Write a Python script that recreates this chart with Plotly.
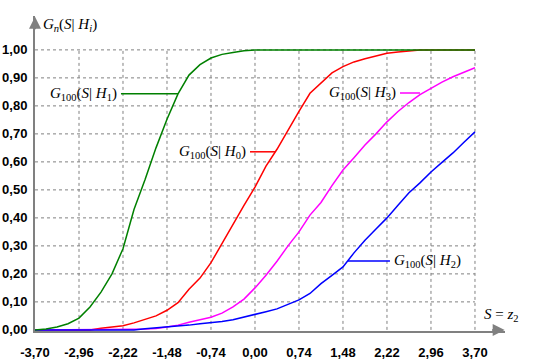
import plotly.graph_objects as go

# Sample points along S (step 0.185)
s_vals = [-3.700, -3.515, -3.330, -3.145, -2.960, -2.775, -2.590, -2.405, -2.220, -2.035,
          -1.850, -1.665, -1.480, -1.295, -1.110, -0.925, -0.740, -0.555, -0.370, -0.185,
          0.000, 0.185, 0.370, 0.555, 0.740, 0.925, 1.110, 1.295, 1.480, 1.665,
          1.850, 2.035, 2.220, 2.405, 2.590, 2.775, 2.960, 3.145, 3.330, 3.515, 3.700]

g_h1 = [0.000, 0.003, 0.010, 0.022, 0.042, 0.082, 0.135, 0.200, 0.290, 0.430,
        0.536, 0.650, 0.752, 0.843, 0.910, 0.947, 0.971, 0.984, 0.991, 0.997,
        1.000, 1.000, 1.000, 1.000, 1.000, 1.000, 1.000, 1.000, 1.000, 1.000,
        1.000, 1.000, 1.000, 1.000, 1.000, 1.000, 1.000, 1.000, 1.000, 1.000, 1.000]

g_h0 = [0.000, 0.000, 0.000, 0.000, 0.000, 0.000, 0.006, 0.010, 0.015, 0.025,
        0.037, 0.050, 0.070, 0.097, 0.145, 0.185, 0.240, 0.310, 0.380, 0.445,
        0.510, 0.585, 0.645, 0.715, 0.780, 0.845, 0.880, 0.918, 0.940, 0.957,
        0.968, 0.979, 0.988, 0.992, 0.996, 1.000, 1.000, 1.000, 1.000, 1.000, 1.000]

g_h3 = [0.000, 0.000, 0.000, 0.000, 0.000, 0.000, 0.000, 0.000, 0.001, 0.002,
        0.003, 0.005, 0.010, 0.017, 0.027, 0.036, 0.045, 0.060, 0.082, 0.110,
        0.150, 0.195, 0.245, 0.300, 0.350, 0.410, 0.455, 0.515, 0.571, 0.615,
        0.660, 0.700, 0.743, 0.780, 0.812, 0.840, 0.864, 0.885, 0.904, 0.920, 0.936]

g_h2 = [0.000, 0.000, 0.000, 0.000, 0.000, 0.000, 0.000, 0.000, 0.000, 0.000,
        0.004, 0.007, 0.010, 0.012, 0.017, 0.022, 0.025, 0.030, 0.036, 0.045,
        0.054, 0.065, 0.075, 0.090, 0.107, 0.130, 0.165, 0.195, 0.225, 0.275,
        0.320, 0.360, 0.400, 0.445, 0.490, 0.525, 0.564, 0.598, 0.632, 0.670, 0.707]

x_ticks = [-3.70, -2.96, -2.22, -1.48, -0.74, 0.00, 0.74, 1.48, 2.22, 2.96, 3.70]
x_ticktext = ["-3,70", "-2,96", "-2,22", "-1,48", "-0,74", "0,00", "0,74", "1,48", "2,22", "2,96", "3,70"]
y_ticks = [0.0, 0.1, 0.2, 0.3, 0.4, 0.5, 0.6, 0.7, 0.8, 0.9, 1.0]
y_ticktext = ["0,00", "0,10", "0,20", "0,30", "0,40", "0,50", "0,60", "0,70", "0,80", "0,90", "1,00"]

series = [
    ("H1", g_h1, "#008000"),
    ("H0", g_h0, "#FF0000"),
    ("H3", g_h3, "#FF00FF"),
    ("H2", g_h2, "#0000FF"),
]

fig = go.Figure()
# draw red first so green stays on top at 1.0
for name, vals, col in [series[1], series[2], series[3], series[0]]:
    fig.add_trace(go.Scatter(x=s_vals, y=vals, mode="lines", name=name,
                             line=dict(color=col, width=1.5), hoverinfo="skip"))

grid = dict(color="#808080", width=1, dash="3px,3px")
shapes = []
for yv in y_ticks[1:]:
    shapes.append(dict(type="line", xref="x", yref="y", x0=x_ticks[0], x1=x_ticks[-1],
                       y0=yv, y1=yv, line=grid, layer="below"))
for xv in x_ticks[1:]:
    shapes.append(dict(type="line", xref="x", yref="y", x0=xv, x1=xv,
                       y0=0, y1=y_ticks[-1], line=grid, layer="below"))

lbl_font = dict(family="Liberation Serif", size=15, color="black")
leaders = [
    # (text, text_x, text_y, anchor, line x0, x1, y, color)
    ("<i>G</i><sub>100</sub>(<i>S</i>| <i>H</i><sub>1</sub>)", -2.29, 0.843, "right", -2.254, -1.295, "#008000"),
    ("<i>G</i><sub>100</sub>(<i>S</i>| <i>H</i><sub>0</sub>)", -0.11, 0.636, "right", -0.084, 0.336, "#FF0000"),
    ("<i>G</i><sub>100</sub>(<i>S</i>| <i>H</i><sub>3</sub>)", 2.40, 0.846, "right", 2.439, 2.775, "#FF00FF"),
    ("<i>G</i><sub>100</sub>(<i>S</i>| <i>H</i><sub>2</sub>)", 2.31, 0.246, "left", 1.564, 2.27, "#0000FF"),
]
annotations = []
for txt, tx, ty, anc, lx0, lx1, col in leaders:
    shapes.append(dict(type="line", xref="x", yref="y", x0=lx0, x1=lx1, y0=ty, y1=ty,
                       line=dict(color=col, width=1.5)))
    annotations.append(dict(x=tx, y=ty, xref="x", yref="y", text=txt, showarrow=False,
                            xanchor=anc, yanchor="middle", font=lbl_font))

# axis titles
annotations.append(dict(x=-3.60, y=1.089, xref="x", yref="y", xanchor="left", yanchor="middle",
                        text="<i>G</i><sub><i>n</i></sub>(<i>S</i>| <i>H</i><sub><i>i</i></sub>)",
                        showarrow=False, font=lbl_font))
annotations.append(dict(x=3.82, y=0.052, xref="x", yref="y", xanchor="left", yanchor="middle",
                        text="<i>S</i> = <i>z</i><sub>2</sub>", showarrow=False, font=lbl_font))
# axis arrowheads
annotations.append(dict(x=4.20, y=0, xref="x", yref="y", ax=-14, ay=0, text="", showarrow=True,
                        arrowhead=2, arrowsize=1.2, arrowwidth=2, arrowcolor="#808080"))
annotations.append(dict(x=-3.70, y=1.118, xref="x", yref="y", ax=0, ay=14, text="", showarrow=True,
                        arrowhead=2, arrowsize=1.2, arrowwidth=2, arrowcolor="#808080"))

tick_font = dict(family="Liberation Sans", size=13, color="black", weight="bold")
fig.update_layout(
    width=540, height=360,
    margin=dict(l=35, r=35, t=16, b=29, autoexpand=False),
    paper_bgcolor="white", plot_bgcolor="white",
    showlegend=False,
    shapes=shapes, annotations=annotations,
    xaxis=dict(range=[-3.70, 4.205], tickvals=x_ticks, ticktext=x_ticktext, showgrid=False,
               zeroline=False, showline=True, linecolor="#808080", linewidth=2, automargin=False,
               ticks="", tickfont=tick_font, ticklabelstandoff=8, fixedrange=True),
    yaxis=dict(range=[-0.004, 1.121], tickvals=y_ticks, ticktext=y_ticktext, showgrid=False,
               zeroline=False, showline=True, linecolor="#808080", linewidth=2, automargin=False,
               ticks="", tickfont=tick_font, ticklabelstandoff=3, fixedrange=True),
)

fig.write_html("out.html", config={"displayModeBar": False},
               post_script="document.body.style.margin='0';")
